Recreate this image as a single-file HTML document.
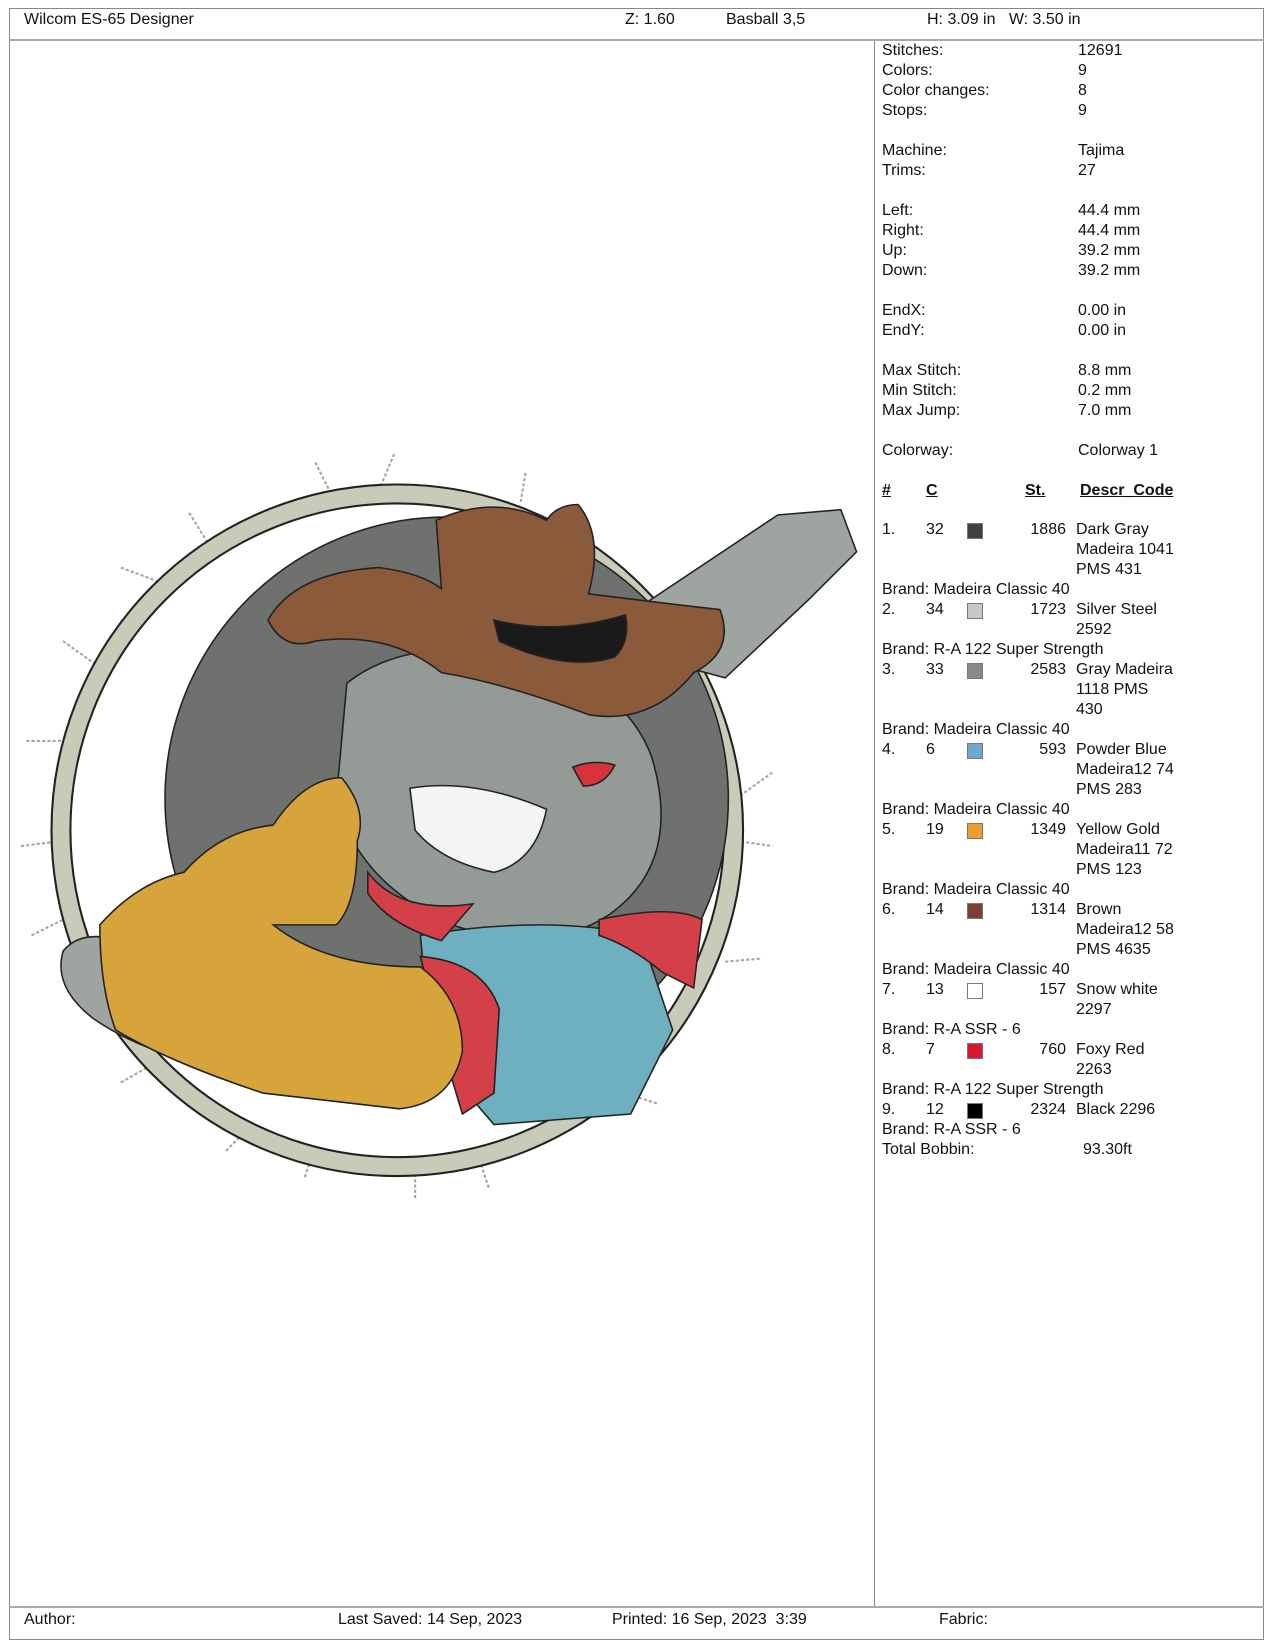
<!DOCTYPE html>
<html><head><meta charset="utf-8"><style>
html,body{margin:0;padding:0;background:#fff;}
body{width:1275px;height:1650px;position:relative;overflow:hidden;font-family:"Liberation Sans",Arial,sans-serif;font-size:16px;color:#111;}
.t{position:absolute;white-space:nowrap;line-height:20px;}
.sw{position:absolute;width:14px;height:14px;border:1px solid #777;}
.u{text-decoration:underline;font-weight:bold;}
</style></head><body>
<div style="position:absolute;left:9px;top:8px;width:1255px;height:1632px;border:1px solid #888;box-sizing:border-box;"></div>
<div style="position:absolute;left:9px;top:39px;width:1255px;height:2px;background:#aaa;"></div>
<div style="position:absolute;left:9px;top:1606px;width:1255px;height:2px;background:#aaa;"></div>
<div style="position:absolute;left:874px;top:41px;width:1px;height:1565px;background:#888;"></div>

<div class="t" style="left:24px;top:10px">Wilcom ES-65 Designer</div>
<div class="t" style="left:625px;top:10px">Z: 1.60</div>
<div class="t" style="left:726px;top:10px">Basball 3,5</div>
<div class="t" style="left:927px;top:10px">H: 3.09 in&nbsp;&nbsp;&nbsp;W: 3.50 in</div>

<div class="t" style="left:24px;top:1610px">Author:</div>
<div class="t" style="left:338px;top:1610px">Last Saved: 14 Sep, 2023</div>
<div class="t" style="left:612px;top:1610px">Printed: 16 Sep, 2023&nbsp;&nbsp;3:39</div>
<div class="t" style="left:939px;top:1610px">Fabric:</div>

<div class="t" style="left:882px;top:41px">Stitches:<br>Colors:<br>Color changes:<br>Stops:<br><br>Machine:<br>Trims:<br><br>Left:<br>Right:<br>Up:<br>Down:<br><br>EndX:<br>EndY:<br><br>Max Stitch:<br>Min Stitch:<br>Max Jump:<br><br>Colorway:</div>
<div class="t" style="left:1078px;top:41px">12691<br>9<br>8<br>9<br><br>Tajima<br>27<br><br>44.4 mm<br>44.4 mm<br>39.2 mm<br>39.2 mm<br><br>0.00 in<br>0.00 in<br><br>8.8 mm<br>0.2 mm<br>7.0 mm<br><br>Colorway 1</div>

<div class="t u" style="left:882px;top:481px">#</div>
<div class="t u" style="left:926px;top:481px">C</div>
<div class="t u" style="left:1025px;top:481px">St.</div>
<div class="t u" style="left:1080px;top:481px">Descr_Code</div>

<div class="t" style="left:882px;top:520px">1.<br><br><br>Brand: Madeira Classic 40<br>2.<br><br>Brand: R-A 122 Super Strength<br>3.<br><br><br>Brand: Madeira Classic 40<br>4.<br><br><br>Brand: Madeira Classic 40<br>5.<br><br><br>Brand: Madeira Classic 40<br>6.<br><br><br>Brand: Madeira Classic 40<br>7.<br><br>Brand: R-A SSR - 6<br>8.<br><br>Brand: R-A 122 Super Strength<br>9.<br>Brand: R-A SSR - 6<br>Total Bobbin:</div>
<div class="t" style="left:926px;top:520px">32<br><br><br><br>34<br><br><br>33<br><br><br><br>6<br><br><br><br>19<br><br><br><br>14<br><br><br><br>13<br><br><br>7<br><br><br>12</div>
<div class="t" style="left:1020px;top:520px;width:46px;text-align:right">1886<br><br><br><br>1723<br><br><br>2583<br><br><br><br>593<br><br><br><br>1349<br><br><br><br>1314<br><br><br><br>157<br><br><br>760<br><br><br>2324</div>
<div class="t" style="left:1076px;top:520px">Dark Gray<br>Madeira 1041<br>PMS 431<br><br>Silver Steel<br>2592<br><br>Gray Madeira<br>1118 PMS<br>430<br><br>Powder Blue<br>Madeira12 74<br>PMS 283<br><br>Yellow Gold<br>Madeira11 72<br>PMS 123<br><br>Brown<br>Madeira12 58<br>PMS 4635<br><br>Snow white<br>2297<br><br>Foxy Red<br>2263<br><br>Black 2296</div>
<div class="t" style="left:1083px;top:1140px">93.30ft</div>

<div class="sw" style="left:967px;top:523px;background:#404040"></div>
<div class="sw" style="left:967px;top:603px;background:#c8c8c8"></div>
<div class="sw" style="left:967px;top:663px;background:#8a8a8a"></div>
<div class="sw" style="left:967px;top:743px;background:#6fa8cc"></div>
<div class="sw" style="left:967px;top:823px;background:#e8a030"></div>
<div class="sw" style="left:967px;top:903px;background:#7a4030"></div>
<div class="sw" style="left:967px;top:983px;background:#ffffff"></div>
<div class="sw" style="left:967px;top:1043px;background:#d81830"></div>
<div class="sw" style="left:967px;top:1103px;background:#000"></div>

<svg style="position:absolute;left:0;top:0" width="874" height="1600">
<g transform="scale(1.051)" stroke="#222" stroke-width="1.5">
<g stroke="#aaa49a" stroke-width="2" stroke-dasharray="3,2">
<line x1="300" y1="440" x2="315" y2="470"/><line x1="375" y1="432" x2="360" y2="468"/><line x1="500" y1="450" x2="495" y2="480"/>
<line x1="180" y1="488" x2="200" y2="520"/><line x1="115" y1="540" x2="155" y2="555"/><line x1="60" y1="610" x2="95" y2="635"/>
<line x1="25" y1="705" x2="60" y2="705"/><line x1="20" y1="805" x2="60" y2="800"/><line x1="30" y1="890" x2="70" y2="870"/>
<line x1="700" y1="760" x2="735" y2="735"/><line x1="700" y1="800" x2="735" y2="805"/><line x1="690" y1="915" x2="725" y2="912"/>
<line x1="115" y1="1030" x2="150" y2="1010"/><line x1="215" y1="1095" x2="240" y2="1070"/><line x1="290" y1="1120" x2="300" y2="1090"/>
<line x1="395" y1="1140" x2="395" y2="1110"/><line x1="465" y1="1130" x2="455" y2="1100"/><line x1="625" y1="1050" x2="595" y2="1040"/>
</g>
<circle cx="378" cy="790" r="320" fill="none" stroke="#222" stroke-width="20"/>
<circle cx="378" cy="790" r="320" fill="none" stroke="#c9cbb8" stroke-width="16"/>
<circle cx="425" cy="760" r="268" fill="#6e716e"/>
<polygon points="560,610 740,490 800,485 815,525 770,570 690,645" fill="#9ea49f"/>
<path d="M60,905 Q80,880 130,900 L210,960 L210,1010 Q150,1010 90,970 Q50,940 60,905Z" fill="#9ea49f"/>
<path d="M330,650 Q380,610 470,620 Q590,640 620,720 Q650,820 580,870 Q520,910 430,880 Q340,840 320,760Z" fill="#949a95"/>
<path d="M390,750 Q450,740 520,770 Q510,820 470,830 Q420,820 395,790Z" fill="#f4f4f4"/>
<path d="M545,730 Q565,722 585,728 Q575,748 555,748Z" fill="#d8323a"/>
<path d="M400,890 Q520,870 610,890 L640,980 L600,1060 L470,1070 L410,1000Z" fill="#6fb0c0"/>
<path d="M350,830 Q380,870 450,860 L420,895 Q370,880 350,850Z" fill="#d44048"/>
<path d="M570,875 Q640,860 668,875 L660,940 L630,925 Q600,900 570,890Z" fill="#d44048"/>
<path d="M400,910 Q460,915 475,960 L470,1040 L440,1060 L425,1010Z" fill="#d44048"/>
<path d="M95,880 Q130,840 175,830 Q210,790 260,785 Q290,740 325,740 Q350,770 340,800 Q340,860 320,880 L260,880 Q310,920 400,920 Q440,950 440,1000 Q430,1050 380,1055 L250,1040 Q160,1010 110,980 Q95,940 95,880Z" fill="#d7a43c"/>
<path d="M255,590 Q280,545 360,540 Q400,545 420,560 L415,495 Q470,470 520,495 Q530,480 550,480 Q575,510 560,565 Q640,575 685,580 Q700,620 660,640 Q620,690 560,680 Q480,650 420,640 Q370,600 300,610 Q270,620 255,590Z" fill="#8a5a3a"/>
<path d="M470,590 Q530,605 595,585 Q600,610 585,625 Q540,640 475,610Z" fill="#1a1a1a"/>
</g>
</svg>
</body></html>
